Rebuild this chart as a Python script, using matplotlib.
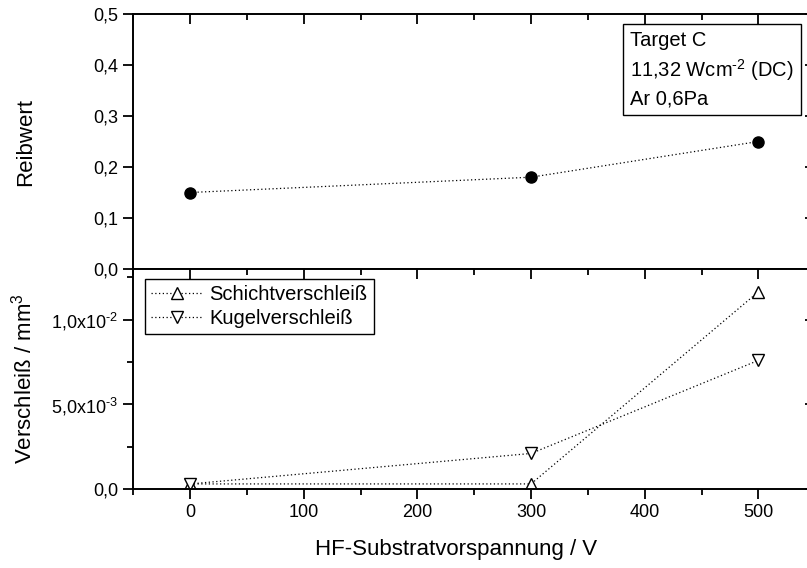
import numpy as np
import matplotlib
matplotlib.use("Agg")
import matplotlib.pyplot as plt
from matplotlib.ticker import MultipleLocator, FixedLocator, FixedFormatter

plt.rcParams['font.family'] = ['Liberation Sans', 'DejaVu Sans']
plt.rcParams['mathtext.fontset'] = 'custom'
plt.rcParams['mathtext.rm'] = 'Liberation Sans'
plt.rcParams['mathtext.it'] = 'Liberation Sans'
plt.rcParams['mathtext.bf'] = 'Liberation Sans'

# data
spannung = [0, 300, 500]                 # V
reibwert = [0.15, 0.18, 0.25]
schicht = [0.0003, 0.0003, 0.01165]      # mm^3
kugel = [0.0003, 0.0021, 0.0076]         # mm^3

reib_ticks = [0.0, 0.1, 0.2, 0.3, 0.4, 0.5]
reib_labels = ["0,0", "0,1", "0,2", "0,3", "0,4", "0,5"]
versch_ticks = [0.0, 0.005, 0.01]
versch_labels = ["0,0", r"5,0x10$^{\text{-3}}$", r"1,0x10$^{\text{-2}}$"]

fig = plt.figure(figsize=(8.07, 5.68), dpi=100)
W, H = 807, 568
x0, xw = 133.2, 682
ax1 = fig.add_axes([x0 / W, (H - 269) / H, xw / W, 255 / H])
ax2 = fig.add_axes([x0 / W, (H - 489) / H, xw / W, 220 / H])

dot = (0, (1, 2))
ax1.plot(spannung, reibwert, color='black', ls=dot, lw=0.9, marker='o',
         ms=8, mfc='black', mec='black')
ax2.plot(spannung, schicht, color='black', ls=dot, lw=0.9, marker='^',
         ms=8, mfc='white', mec='black', mew=1, label='Schichtverschleiß')
ax2.plot(spannung, kugel, color='black', ls=dot, lw=0.9, marker='v',
         ms=8, mfc='white', mec='black', mew=1, label='Kugelverschleiß')

for ax in (ax1, ax2):
    ax.set_xlim(-50, 550)
    ax.xaxis.set_major_locator(MultipleLocator(100))
    ax.xaxis.set_minor_locator(MultipleLocator(50))
    for s in ax.spines.values():
        s.set_linewidth(1.4)
    ax.tick_params(which='both', width=1.3, labelsize=13, pad=4, direction='out',
                   top=True, right=True, labelright=False, labeltop=False)
    ax.tick_params(which='major', length=7)
    ax.tick_params(which='minor', length=4.5)

# top panel
ax1.set_ylim(0, 0.5)
ax1.yaxis.set_major_locator(FixedLocator(reib_ticks))
ax1.yaxis.set_major_formatter(FixedFormatter(reib_labels))
ax1.tick_params(axis='x', labelbottom=False)
ax1.set_ylabel('Reibwert', fontsize=16)

# bottom panel
ax2.set_ylim(0, 0.013)
ax2.yaxis.set_major_locator(FixedLocator(versch_ticks))
ax2.yaxis.set_major_formatter(FixedFormatter(versch_labels))
ax2.yaxis.set_minor_locator(MultipleLocator(0.0025))
ax2.set_ylabel(r'Verschleiß / mm$^3$', fontsize=16)
ax2.set_xlabel('HF-Substratvorspannung / V', fontsize=16)

# right and top ticks point inward
for ax in (ax1, ax2):
    for t in ax.yaxis.get_major_ticks() + ax.yaxis.get_minor_ticks():
        t.tick2line.set_marker(0)
    for t in ax.xaxis.get_major_ticks() + ax.xaxis.get_minor_ticks():
        t.tick2line.set_marker(3)

ax1.yaxis.set_label_coords(-0.142, 0.5)
ax2.yaxis.set_label_coords(-0.142, 0.5)
ax2.xaxis.set_label_coords(0.473, -0.225)

ax1.text(0.728, 0.935, 'Target C\n11,32 Wcm$^{\\text{-2}}$ (DC)\nAr 0,6Pa',
         transform=ax1.transAxes, fontsize=14.5, va='top', ha='left',
         linespacing=1.4,
         bbox=dict(boxstyle='square,pad=0.35', fc='white', ec='black', lw=1))

leg = ax2.legend(loc='upper left', bbox_to_anchor=(0.0173, 0.955),
                 borderaxespad=0, fontsize=14.5, handlelength=2.6,
                 handletextpad=0.3, borderpad=0.3, labelspacing=0.25,
                 fancybox=False, framealpha=1, edgecolor='black')
leg.get_frame().set_linewidth(1.0)

fig.savefig('out.png', dpi=100)
